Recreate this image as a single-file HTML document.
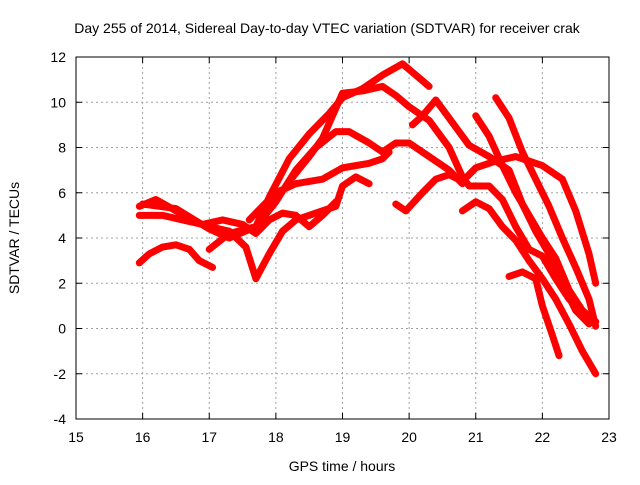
<!DOCTYPE html>
<html><head><meta charset="utf-8"><style>
body{margin:0;background:#fff}
svg text{font-family:"Liberation Sans",sans-serif;font-size:14px;fill:#000}
</style></head><body>
<svg id="chart" width="640" height="480" viewBox="0 0 640 480" xmlns="http://www.w3.org/2000/svg">
<rect width="640" height="480" fill="#fff"/>
<text x="327" y="33" text-anchor="middle">Day 255 of 2014, Sidereal Day-to-day VTEC variation (SDTVAR) for receiver crak</text>
<g id="grid"></g>
<g id="axes"></g>
<g id="series"></g>
<text x="342" y="471" text-anchor="middle">GPS time / hours</text>
<text transform="translate(19,238) rotate(-90)" text-anchor="middle">SDTVAR / TECUs</text>
</svg>
<script>
const xTicks=[15,16,17,18,19,20,21,22,23];
const yTicks=[-4,-2,0,2,4,6,8,10,12];
const s1=[[15.95,2.9],[16.1,3.3],[16.3,3.6],[16.5,3.7],[16.7,3.5],[16.85,3.0],[17.05,2.7]];
const s2=[[15.95,5.4],[16.2,5.7],[16.5,5.2],[16.8,4.7],[17.0,4.5],[17.3,4.3],[17.55,3.6],[17.7,2.2],[17.9,3.3],[18.1,4.3],[18.3,4.8],[18.6,5.1],[18.9,5.4],[19.0,6.3],[19.2,6.7],[19.4,6.4]];
const s3=[[15.95,5.0],[16.3,5.0],[16.6,4.8],[16.9,4.6],[17.2,4.8],[17.5,4.6],[17.7,4.2],[17.9,4.8],[18.1,5.1],[18.3,5.0],[18.5,4.5],[18.7,5.0],[18.9,5.6]];
const s4=[[16.0,5.5],[16.5,5.3],[17.0,4.4],[17.3,4.0],[17.7,4.5],[17.9,5.8],[18.2,7.5],[18.5,8.6],[18.8,9.5],[19.0,10.2],[19.3,10.6],[19.6,11.2],[19.9,11.7],[20.1,11.2],[20.3,10.7]];
const s5=[[17.0,3.5],[17.3,4.2],[17.7,4.5],[18.0,5.6],[18.3,7.0],[18.6,8.0],[18.9,8.7],[19.1,8.7],[19.4,8.2],[19.6,7.8],[19.8,8.2],[20.0,8.2],[20.3,7.6],[20.6,7.0],[20.8,6.4]];
const s6=[[17.6,4.8],[18.0,6.0],[18.3,6.4],[18.7,6.6],[19.0,7.1],[19.4,7.3],[19.6,7.5],[19.7,7.8]];
const s7=[[18.2,6.5],[18.5,7.6],[18.7,8.4],[19.0,10.4],[19.3,10.5],[19.6,10.7],[19.8,10.3],[20.0,9.8],[20.3,9.2],[20.6,8.0],[20.8,6.7],[20.9,6.3],[21.2,6.3],[21.4,5.7],[21.6,4.5],[21.8,3.5],[22.0,3.2],[22.2,2.2],[22.4,1.3],[22.6,0.7],[22.8,0.3]];
const s8=[[19.8,5.5],[19.95,5.2],[20.2,6.0],[20.4,6.6],[20.6,6.8],[20.8,6.5],[21.0,7.1],[21.3,7.4],[21.6,7.6],[21.8,7.4],[22.0,7.2],[22.3,6.6],[22.5,5.2],[22.7,3.3],[22.8,2.0]];
const s9=[[20.05,9.0],[20.2,9.4],[20.4,10.1],[20.6,9.3],[20.9,8.1],[21.2,7.6],[21.5,7.0],[21.7,5.5],[21.9,4.3],[22.1,3.3],[22.3,2.0],[22.5,0.8],[22.7,0.2]];
const s10=[[21.3,10.2],[21.5,9.3],[21.7,7.8],[21.9,6.6],[22.1,5.4],[22.3,4.0],[22.5,2.7],[22.7,1.3],[22.8,0.1]];
const s11=[[21.0,9.4],[21.2,8.5],[21.4,7.2],[21.6,6.0],[21.8,5.0],[22.0,4.0],[22.2,3.1],[22.4,1.7],[22.6,0.8],[22.8,0.3]];
const s12=[[20.8,5.2],[21.0,5.6],[21.2,5.3],[21.4,4.5],[21.6,3.9],[21.8,3.0],[22.0,2.2],[22.2,1.3],[22.4,0.2],[22.6,-1.0],[22.8,-2.0]];
const s13=[[21.5,2.3],[21.7,2.5],[21.9,2.2],[22.0,1.0],[22.15,-0.3],[22.25,-1.2]];
const allSeries=[s1,s2,s3,s4,s5,s6,s7,s8,s9,s10,s11,s12,s13];
const L=76,R=609,T=57,B=419;
const xs=v=>L+(v-15)/8*(R-L);
const ys=v=>B-(v+4)/16*(B-T);
const NS="http://www.w3.org/2000/svg";
const grid=document.getElementById('grid'),axes=document.getElementById('axes'),ser=document.getElementById('series');
function mk(tag,attrs,parent){const e=document.createElementNS(NS,tag);for(const k in attrs)e.setAttribute(k,attrs[k]);parent.appendChild(e);return e;}
xTicks.forEach(t=>{const x=xs(t);
 if(t>15&&t<23){const g=mk('line',{x1:x,y1:T,x2:x,y2:B,stroke:'#a0a0a0','stroke-dasharray':'2,3'},grid);
 
 }
 mk('line',{x1:x,y1:B,x2:x,y2:B-6,stroke:'#000'},axes);mk('line',{x1:x,y1:T,x2:x,y2:T+6,stroke:'#000'},axes);
 const tx=mk('text',{x:x,y:B+23,'text-anchor':'middle'},axes);tx.textContent=t;
 
 });
yTicks.forEach(t=>{const y=ys(t);
 if(t>-4&&t<12){const g=mk('line',{x1:L,y1:y,x2:R,y2:y,stroke:'#a0a0a0','stroke-dasharray':'2,3'},grid);
 
 }
 mk('line',{x1:L,y1:y,x2:L+6,y2:y,stroke:'#000'},axes);mk('line',{x1:R,y1:y,x2:R-6,y2:y,stroke:'#000'},axes);
 const tx=mk('text',{x:L-10,y:y+5,'text-anchor':'end'},axes);tx.textContent=t;
 
 });
mk('rect',{x:L,y:T,width:R-L,height:B-T,fill:'none',stroke:'#000'},axes);
allSeries.forEach((s,i)=>{
 const p=mk('polyline',{points:s.map(d=>xs(d[0])+','+ys(d[1])).join(' '),fill:'none',stroke:'#ff0000','stroke-width':7,'stroke-linejoin':'round','stroke-linecap':'round'},ser);
 
 
});
</script>
</body></html>
